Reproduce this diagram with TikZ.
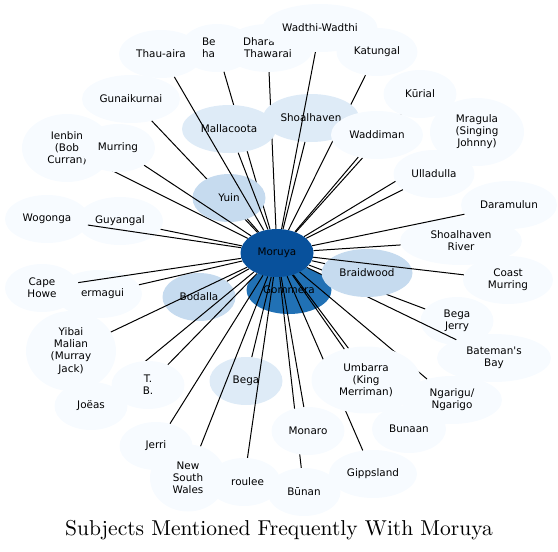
\documentclass[tikz,border=0pt]{standalone}
\usepackage{fontspec}
\usepackage{tikz}
\usetikzlibrary{shapes.geometric}
\usepackage{xcolor}

\newfontfamily\labelfont[Ligatures=TeXOff]{DejaVu Sans}
\newfontfamily\titlefont[Extension=.otf]{lmroman10-regular}

\definecolor{bluesA}{HTML}{F7FBFF}
\definecolor{bluesB}{HTML}{DEEBF7}
\definecolor{bluesC}{HTML}{C6DBEF}
\definecolor{bluesE}{HTML}{2171B5}
\definecolor{bluesF}{HTML}{08519C}

\pgfdeclarelayer{back}
\pgfdeclarelayer{low}
\pgfdeclarelayer{mid}
\pgfdeclarelayer{top}
\pgfsetlayers{back,low,mid,main,top}

\begin{document}
\begin{tikzpicture}[
    x=1pt, y=-1pt,
    term/.style={ellipse, inner sep=0pt, minimum width=73pt, minimum height=48pt,
        align=center, font=\labelfont\fontsize{10.4pt}{12.1pt}\selectfont},
    rare/.style={term, fill=bluesA},
    some/.style={term, fill=bluesB},
    often/.style={term, fill=bluesC},
    link/.style={line width=1pt}
]
\useasboundingbox (0,0) rectangle (558,552);

% Nodes under every connector
\begin{pgfonlayer}{back}
\node[rare] (be) at (217,48) {\makebox[30pt][l]{Be}\\\makebox[30pt][l]{ha}};
\node[rare, minimum width=84pt] (thau) at (161,54) {Thau-aira};
\node[rare, minimum width=90pt] (dhara) at (268,48) {\makebox[50pt][l]{Dhara}\\Thawarai};
\node[rare, minimum width=115pt] (wadthi) at (320,28) {Wadthi-Wadthi};
\node[rare, minimum width=81pt] (katungal) at (377,52) {Katungal};
\node[rare, minimum width=98pt] (gunai) at (131,99) {Gunaikurnai};
\node[rare] (kurial) at (420,94) {Kūrial};
\node[rare, minimum width=94pt, minimum height=68pt] (mragula) at (477,132) {Mragula\\(Singing\\Johnny)};
\node[rare, minimum width=90pt, minimum height=68pt] (ienbin) at (67,148) {Ienbin\\(Bob\\Curran)};
\node[rare, minimum width=96pt] (daramulun) at (509,205) {Daramulun};
\node[rare, minimum width=84pt] (wogonga) at (47,219) {Wogonga};
\node[rare, minimum width=86pt] (guyangal) at (120,221) {Guyangal};
\node[rare, minimum width=122pt] (shoalriver) at (461,241) {Shoalhaven\\River};
\node[rare, minimum width=86pt] (bermagui) at (99,294) {\hphantom{B}ermagui};
\node[rare, minimum width=90pt] (coast) at (508,280) {Coast\\Murring};
\node[rare, minimum width=74pt] (capehowe) at (42,288) {Cape\\Howe};
\node[often] (bodalla) at (199,297) {Bodalla};
\node[rare] (begajerry) at (457,321) {Bega\\Jerry};
\node[rare, minimum width=114pt] (bateman) at (494,358) {Bateman's\\Bay};
\node[rare, minimum width=90pt, minimum height=80pt] (yibai) at (71,351) {Yibai\\Malian\\(Murray\\Jack)};
\node[some] (bega) at (246,381) {Bega};
\node[rare] (joeas) at (91,406) {Joëas};
\node[rare] (jerri) at (156,446) {Jerri};
\node[rare] (broulee) at (244,482) {\hphantom{B}roulee};
\node[rare, minimum width=76pt, minimum height=67pt] (nsw) at (188,478) {New\\South\\Wales};
\node[rare, minimum width=88pt] (gippsland) at (373,474) {Gippsland};
\node[rare, minimum width=100pt] (ngarigu) at (452,400) {Ngarigu/\\Ngarigo};
\node[rare] (bunan) at (304,492) {Būnan};
\node[term, fill=bluesE, minimum width=85pt] (gommera) at (289,290) {Gommera};
\end{pgfonlayer}

% Nodes that hide the connectors running behind them
\begin{pgfonlayer}{mid}
\node[some, minimum width=94pt] (mallacoota) at (229,129) {Mallacoota};
\node[some, minimum width=96pt] (shoalhaven) at (311,118) {Shoalhaven};
\node[rare, minimum width=92pt] (waddiman) at (377,135) {Waddiman};
\node[rare, minimum width=81pt] (ulladulla) at (434,174) {Ulladulla};
\node[rare, minimum width=74pt] (murring) at (118,148) {Murring};
\node[often] (yuin) at (229,198) {Yuin};
\node[often, minimum width=91pt] (braidwood) at (367,273) {Braidwood};
\node[rare] (tb) at (148,385) {T.\\B.};
\node[rare, minimum width=109pt, minimum height=67pt] (umbarra) at (366,380) {Umbarra\\(King\\Merriman)};
\node[rare, minimum width=74pt] (bunaan) at (409,429) {Bunaan};
\node[rare] (monaro) at (308,431) {Monaro};
\end{pgfonlayer}

% Centre node
\begin{pgfonlayer}{top}
\node[term, fill=bluesF] (moruya) at (277,253) {Moruya};
\end{pgfonlayer}

% Edges: hidden behind other nodes
\begin{pgfonlayer}{low}
\draw[link] (moruya) -- (katungal);
\draw[link] (moruya) -- (dhara);
\draw[link] (moruya) -- (be);
\draw[link] (moruya) -- (gunai);
\draw[link] (moruya) -- (kurial);
\draw[link] (moruya) -- (mragula);
\draw[link] (moruya) -- (ienbin);
\draw[link] (moruya) -- (begajerry);
\draw[link] (moruya) -- (bateman);
\draw[link] (moruya) -- (bunaan);
\draw[link] (moruya) -- (gippsland);
\draw[link] (moruya) -- (ngarigu);
\draw[link] (moruya) -- (bunan);
\draw[link] (moruya) -- (joeas);
\end{pgfonlayer}

% Edges: upper half
\draw[link] (moruya) -- (thau);
\draw[link] (moruya) -- (wadthi);
\draw[link] (moruya) -- (shoalhaven);
\draw[link] (moruya) -- (mallacoota);
\draw[link] (moruya) -- (waddiman);
\draw[link] (moruya) -- (ulladulla);
\draw[link] (moruya) -- (murring);
\draw[link] (moruya) -- (yuin);
\draw[link] (moruya) -- (daramulun);
\draw[link] (moruya) -- (shoalriver);

% Edges: left side
\draw[link] (moruya) -- (wogonga);
\draw[link] (moruya) -- (guyangal);
\draw[link] (moruya) -- (capehowe);
\draw[link] (moruya) -- (bermagui);
\draw[link] (moruya) -- (yibai);
\draw[link] (moruya) -- (bodalla);

% Edges: lower half
\draw[link] (moruya) -- (tb);
\draw[link] (moruya) -- (jerri);
\draw[link] (moruya) -- (nsw);
\draw[link] (moruya) -- (bega);
\draw[link] (moruya) -- (broulee);
\draw[link] (moruya) -- (monaro);
\draw[link] (moruya) -- (umbarra);
\draw[link] (moruya) -- (braidwood);
\draw[link] (moruya) -- (coast);

% Title
\node[font=\titlefont\fontsize{21.5pt}{25pt}\selectfont] (title) at (279,530) {Subjects Mentioned Frequently With Moruya};

\end{tikzpicture}
\end{document}
